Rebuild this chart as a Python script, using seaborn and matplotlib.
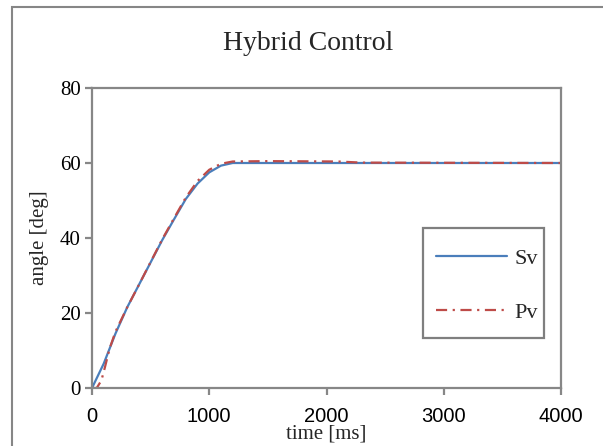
import numpy as np
import pandas as pd
import matplotlib
matplotlib.use("Agg")
import matplotlib.pyplot as plt
from matplotlib.patches import Rectangle
import seaborn as sns

# values
sv_time = [0, 100, 200, 300, 400, 500, 600, 700, 800, 900, 1000, 1100, 1200, 4000]
sv_angle = [0, 6.5, 14.5, 21.5, 27.5, 33.5, 39.5, 45, 50.4, 54.5, 57.5, 59.3, 60, 60]

pv_time = [0, 40, 80, 110, 150, 200, 300, 400, 500, 600, 700, 800, 900, 1000, 1100,
           1200, 1500, 2100, 2300, 4000]
pv_angle = [0, 0, 2, 5.5, 10.5, 15, 21.5, 27.5, 33.6, 39.7, 45.3, 50.8, 55.2, 58.2, 59.8,
            60.4, 60.5, 60.4, 60.1, 60]

x_ticks = [0, 1000, 2000, 3000, 4000]
y_ticks = [0, 20, 40, 60, 80]

sns.set_style("white")
plt.rcParams['font.family'] = ['Liberation Serif', 'DejaVu Serif']

fig = plt.figure(figsize=(6.03, 4.46), dpi=100)
ax = fig.add_axes([92 / 603, 1 - 388 / 446, (561 - 92) / 603, 300 / 446])

sv = pd.DataFrame({'time': sv_time, 'angle': sv_angle})
pv = pd.DataFrame({'time': pv_time, 'angle': pv_angle})

sns.lineplot(data=sv, x='time', y='angle', ax=ax, color='#4A7EBB', lw=1.6, label='Sv')
sns.lineplot(data=pv, x='time', y='angle', ax=ax, color='#BE4B48', lw=1.6, label='Pv')
ax.lines[1].set_dashes((5, 2.5, 1, 2.5))

ax.set_xlim(0, 4000)
ax.set_ylim(0, 80)
ax.set_xticks(x_ticks)
ax.set_yticks(y_ticks)
ax.set_xticklabels([str(t) for t in x_ticks], family='Liberation Sans', fontsize=14.5)
ax.set_yticklabels([str(t) for t in y_ticks], fontsize=15)

axis_gray = '#878787'
for s in ax.spines.values():
    s.set_color(axis_gray)
    s.set_linewidth(1.6)
ax.tick_params(axis='both', direction='out', length=5, width=1.6, color=axis_gray,
               left=True, bottom=True, labelcolor='black')
ax.tick_params(axis='x', pad=9)
ax.tick_params(axis='y', pad=3)

ax.set_xlabel('time [ms]', fontsize=15, va='center')
ax.xaxis.set_label_coords(0.5, (388 - 434) / 300)
ax.set_ylabel('angle [deg]', fontsize=15, labelpad=8)
fig.text(308 / 603, 1 - 43 / 446, 'Hybrid Control', ha='center', va='center', fontsize=20)

# legend box drawn separately so its padding can match the reference
ax.add_patch(Rectangle(((423 - 92) / 469, (388 - 338) / 300), 121 / 469, 110 / 300,
                       transform=ax.transAxes, fill=True, facecolor='white',
                       edgecolor='#7F7F7F', lw=1.6, zorder=4))
leg = ax.legend(loc='center', bbox_to_anchor=(0.842, 0.342), fontsize=16, frameon=False,
                handlelength=3.2, handletextpad=0.35, labelspacing=1.5, borderpad=0)
leg.set_zorder(5)

# outer chart frame
fig.patches.append(Rectangle((12 / 603, -0.1), 1.2, 1.1 - 7 / 446, transform=fig.transFigure,
                             fill=False, edgecolor='#868686', lw=1.5, zorder=0))

fig.savefig('out.png', dpi=100)
